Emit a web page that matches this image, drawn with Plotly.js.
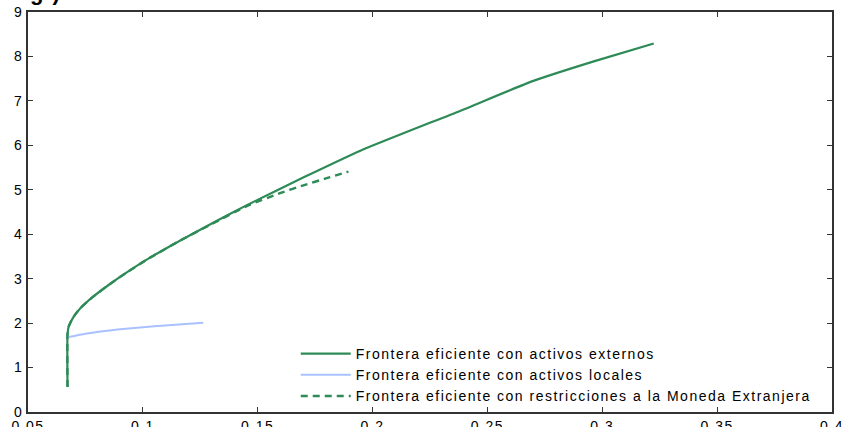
<!DOCTYPE html>
<html>
<head>
<meta charset="utf-8">
<script src="https://cdn.plot.ly/plotly-3.0.1.min.js"></script>
<style>
html,body{margin:0;padding:0;background:#fff;}
#chart{width:845px;height:427px;}
text{letter-spacing:1.5px;}
</style>
</head>
<body>
<div id="chart"></div>
<script>
// Frontera eficiente con activos externos (solid)
const extX = [0.0672, 0.0672, 0.0677, 0.0697, 0.0727, 0.0785, 0.0857, 0.093, 0.1024, 0.1163, 0.13, 0.1455, 0.17, 0.1947, 0.2383, 0.27, 0.2963, 0.3224];
const extY = [0.56, 1.75, 1.92, 2.13, 2.33, 2.60, 2.88, 3.14, 3.45, 3.86, 4.24, 4.66, 5.28, 5.88, 6.78, 7.45, 7.89, 8.29];
// Frontera eficiente con activos locales
const locX = [0.0672, 0.075, 0.09, 0.105, 0.1263];
const locY = [1.68, 1.76, 1.86, 1.93, 2.01];
// Frontera eficiente con restricciones a la Moneda Extranjera (dashed)
const resX = [0.0672, 0.0672, 0.0677, 0.0697, 0.0727, 0.0785, 0.0857, 0.093, 0.1024, 0.1163, 0.13, 0.1455, 0.16, 0.1699, 0.18, 0.1895];
const resY = [0.56, 1.75, 1.92, 2.13, 2.33, 2.60, 2.88, 3.14, 3.45, 3.86, 4.23, 4.64, 4.93, 5.10, 5.26, 5.41];

const xTicks = [0.05, 0.1, 0.15, 0.2, 0.25, 0.3, 0.35, 0.4];
const xTickText = ['0.05', '0.1', '0.15', '0.2', '0.25', '0.3', '0.35', '0.4'];
const yTicks = [0, 1, 2, 3, 4, 5, 6, 7, 8, 9];
const names = ['Frontera eficiente con activos externos', 'Frontera eficiente con activos locales', 'Frontera eficiente con restricciones a la Moneda Extranjera'];

const green = '#2e8b57';
const traces = [
  {x: extX, y: extY, name: names[0], mode: 'lines', line: {color: green, width: 2.2, shape: 'spline', smoothing: 0.5}},
  {x: locX, y: locY, name: names[1], mode: 'lines', line: {color: '#a9c1ff', width: 2, shape: 'spline', smoothing: 0.4}},
  {x: resX, y: resY, name: names[2], mode: 'lines', line: {color: green, width: 2.4, dash: '7px,5px', shape: 'spline', smoothing: 0.5}}
];

const fontFam = 'Liberation Sans, Arial, sans-serif';
const axisCommon = {
  showgrid: false, zeroline: false, showline: true, linecolor: '#333', linewidth: 2,
  mirror: 'ticks', ticks: 'inside', ticklen: 5, tickwidth: 1, tickcolor: '#333',
  tickfont: {family: fontFam, size: 14, color: '#000'}
};

const layout = {
  width: 845, height: 427,
  margin: {l: 28, r: 13, t: 12, b: 15},
  paper_bgcolor: '#fff', plot_bgcolor: '#fff',
  showlegend: true,
  legend: {x: 0.333, y: 0.185, xanchor: 'left', yanchor: 'top', bgcolor: 'rgba(0,0,0,0)',
           font: {family: fontFam, size: 14, color: '#000'}, tracegroupgap: 0, itemwidth: 50},
  xaxis: Object.assign({}, axisCommon, {range: [0.05, 0.4], tickvals: xTicks, ticktext: xTickText}),
  yaxis: Object.assign({}, axisCommon, {range: [0, 9], tickvals: yTicks}),
  annotations: [{text: '<b>g )</b>', xref: 'paper', yref: 'paper', x: 0.0, y: 1.013, xanchor: 'left', yanchor: 'bottom',
                 showarrow: false, font: {family: fontFam, size: 22, color: '#000'}}]
};

Plotly.newPlot('chart', traces, layout, {displayModeBar: false, staticPlot: true});
</script>
</body>
</html>
